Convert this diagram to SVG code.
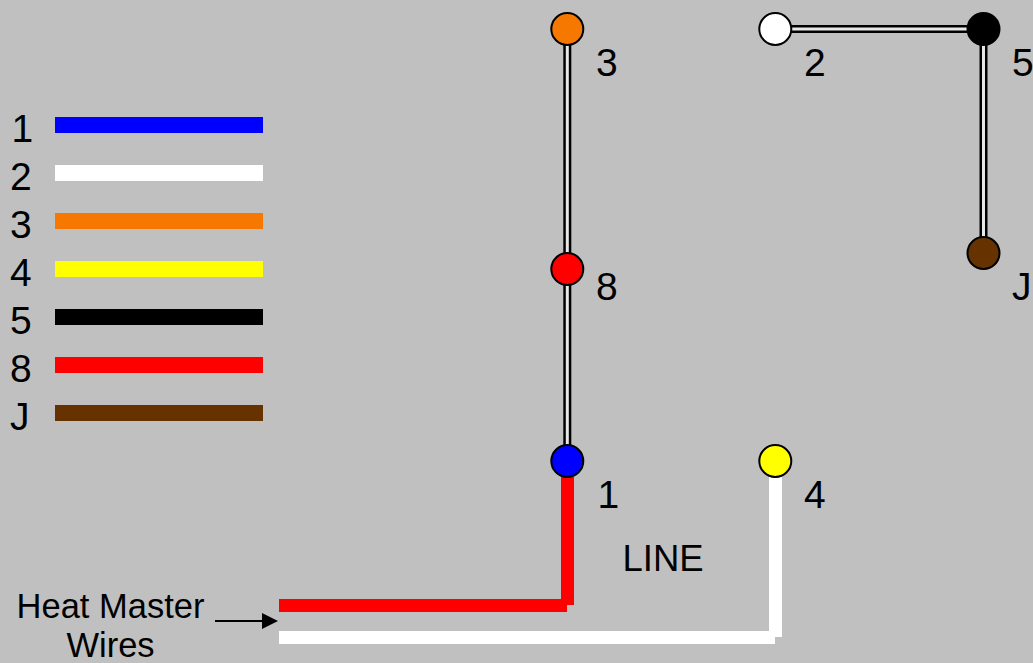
<svg xmlns="http://www.w3.org/2000/svg" width="1033" height="663" viewBox="0 0 1033 663">
<style>
text{font-family:"Liberation Sans",Arial,sans-serif;font-size:36.5px;fill:#000}
.big{font-size:39px}
.w{font-size:34.5px;text-anchor:middle}
.o{stroke:#000;stroke-width:8;fill:none}
.i{stroke:#e8e8e8;stroke-width:3;fill:none}
circle{stroke:#000;stroke-width:2}
</style>
<defs><marker id="a" markerUnits="userSpaceOnUse" markerWidth="16" markerHeight="16" refX="8" refY="8" orient="auto"><path d="M0 0L16 8L0 16Z"/></marker></defs>
<rect width="1033" height="663" fill="#c0c0c0"/>
<g id="legend">
<rect x="55" y="117" width="208" height="16" fill="#00f"/>
<rect x="55" y="165" width="208" height="16" fill="#fff"/>
<rect x="55" y="213" width="208" height="16" fill="#f77800"/>
<rect x="55" y="261" width="208" height="16" fill="#ff0"/>
<rect x="55" y="309" width="208" height="16" fill="#000"/>
<rect x="55" y="357" width="208" height="16" fill="#f00"/>
<rect x="55" y="405" width="208" height="16" fill="#663300"/>
<text class="big" x="11.5" y="142">1</text>
<text class="big" x="10" y="190">2</text>
<text class="big" x="10" y="238">3</text>
<text class="big" x="10" y="286">4</text>
<text class="big" x="10" y="334">5</text>
<text class="big" x="10" y="382">8</text>
<text class="big" x="10" y="430">J</text>
</g>
<g id="connectors">
<path class="o" d="M567.3 29V461M775 29H983.5V253"/>
<path class="i" d="M567.3 29V461M775 29H983.5V253"/>
<path d="M567.5 477V605M567 605.5H279" fill="none" stroke="#f00" stroke-width="13"/>
<path d="M775.5 477V637M775 637.5H279" fill="none" stroke="#fff" stroke-width="13"/>
<path d="M215 621H270" stroke="#000" stroke-width="2" fill="none" marker-end="url(#a)"/>
</g>
<g id="n3"><circle cx="567.3" cy="29" r="16" fill="#f77800"/><text class="big" x="596" y="76">3</text></g>
<g id="n2"><circle cx="775.3" cy="29" r="16" fill="#fff"/><text class="big" x="804" y="76">2</text></g>
<g id="n5"><circle cx="983.5" cy="29" r="16" fill="#000"/><text class="big" x="1012" y="76">5</text></g>
<g id="nJ"><circle cx="983.5" cy="253" r="16" fill="#663300"/><text class="big" x="1012" y="300">J</text></g>
<g id="n8"><circle cx="567.3" cy="269" r="16" fill="#f00"/><text class="big" x="596" y="300">8</text></g>
<g id="n1"><circle cx="567.3" cy="461" r="16" fill="#00f"/><text class="big" x="597.5" y="508">1</text></g>
<g id="n4"><circle cx="775.3" cy="461" r="16" fill="#ff0"/><text class="big" x="804" y="508">4</text></g>
<text x="622.5" y="570.5">LINE</text>
<text class="w" x="110.5" y="617.5">Heat Master</text>
<text class="w" x="110.5" y="657">Wires</text>
</svg>
